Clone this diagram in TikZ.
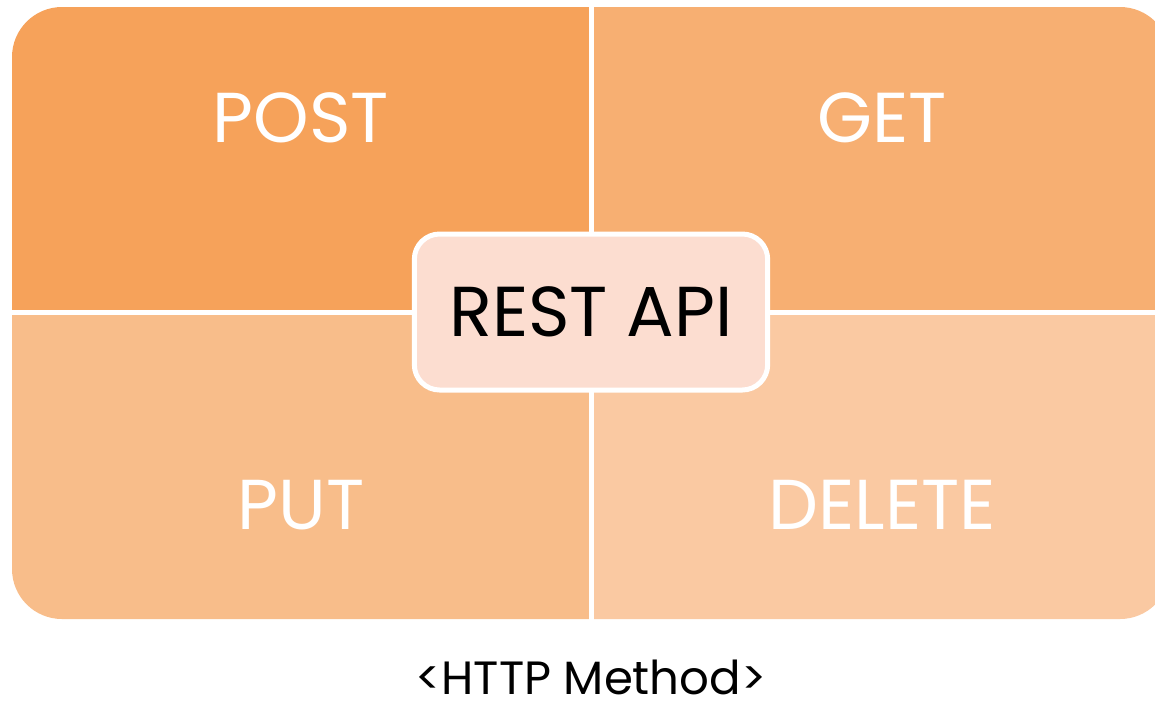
\documentclass[tikz,border=0pt]{standalone}
\usepackage{fontspec}
\setmainfont{Poppins}
\definecolor{postfill}{RGB}{246,162,90}
\definecolor{getfill}{RGB}{247,175,114}
\definecolor{putfill}{RGB}{248,189,138}
\definecolor{deletefill}{RGB}{250,201,162}
\definecolor{apifill}{RGB}{252,221,208}
\tikzset{every picture/.style={line width=0.75pt}}
\tikzset{
  method/.style={text=white,inner sep=0.75pt,font=\fontsize{53}{60}\selectfont},
  apibox/.style={draw=white,line width=3.75pt,fill=apifill,rounded corners=19pt,minimum width=265pt,minimum height=117pt,font=\fontsize{53}{60}\selectfont},
  caption/.style={inner sep=0.75pt,text depth=0pt,font=\fontsize{35}{40}\selectfont}
}
\begin{document}
\begin{tikzpicture}[x=0.75pt,y=0.75pt,yscale=-1,xscale=1]
\useasboundingbox (0,0) rectangle (1155,701);

%Shape: Quadrants
\fill[postfill] (591,312) -- (12,312) [rounded corners=37.5pt] -- (12,7) [sharp corners] -- (591,7) -- cycle;
\fill[getfill] (591,312) -- (591,7) [rounded corners=37.5pt] -- (1170,7) [sharp corners] -- (1170,312) -- cycle;
\fill[putfill] (591,312) -- (591,619) [rounded corners=37.5pt] -- (12,619) [sharp corners] -- (12,312) -- cycle;
\fill[deletefill] (591,312) -- (1170,312) [rounded corners=37.5pt] -- (1170,619) [sharp corners] -- (591,619) -- cycle;
%Straight Lines: dividers
\draw[white,line width=3.75pt] (591,5) -- (591,621) ;
\draw[white,line width=3.75pt] (10,312) -- (1172,312) ;

% Text Node
\node[method] (post) at (301,118) {POST};
% Text Node
\node[method] (get) at (882,118) {GET};
% Text Node
\node[method] (put) at (301,505) {PUT};
% Text Node
\node[method] (delete) at (882,505) {DELETE};
% Text Node
\node[apibox] (api) at (591,312) {REST API};
% Text Node
\node[caption,anchor=base] (httpmethod) at (591,694) {<HTTP Method>};

\end{tikzpicture}
\end{document}
